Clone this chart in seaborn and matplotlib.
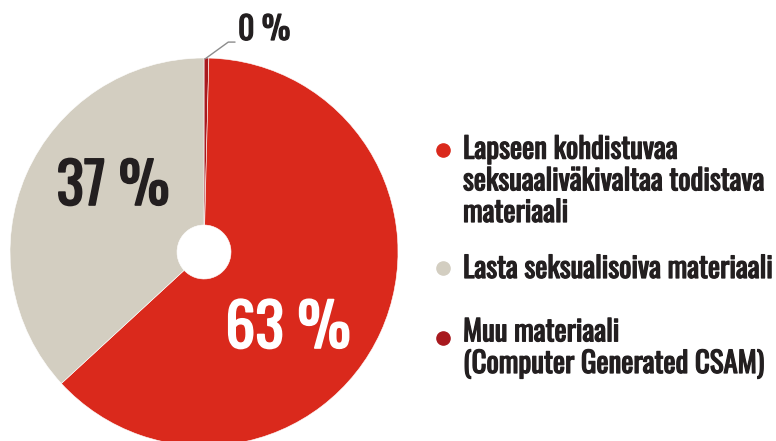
import matplotlib
matplotlib.use("Agg")
import matplotlib.pyplot as plt
import matplotlib.patheffects as pe
import seaborn as sns
from matplotlib.lines import Line2D

# data
categories = ["Muu materiaali\n(Computer Generated CSAM)",
              "Lapseen kohdistuvaa\nseksuaaliväkivaltaa todistava\nmateriaali",
              "Lasta seksualisoiva materiaali"]
shares = [0.4, 63, 37]
pct_labels = ["0 %", "63 %", "37 %"]
colors = ["#A8191E", "#DA291C", "#D3CEC1"]

sns.set_theme(style="white")
plt.rcParams["font.family"] = ["Oswald", "DejaVu Sans"]
text_col = "#231F20"

W, H = 776, 441
fig = plt.figure(figsize=(W / 100, H / 100), dpi=100)


def fx(px):
    return px / W


def fy(py):
    return 1 - py / H


def bold(col, w=0.9):
    return [pe.withStroke(linewidth=w, foreground=col)]


# pie axes: centre at (204, 252) px, radius 194 px
cx, cy, r = 204, 252, 194
ax = fig.add_axes([(cx - r) / W, (H - cy - r) / H, 2 * r / W, 2 * r / H])
wedges, _ = ax.pie(shares, colors=colors, startangle=90, counterclock=False,
                   radius=1, wedgeprops=dict(width=1 - 27 / 194, linewidth=0.4,
                                             edgecolor="white"))
ax.set_xlim(-1, 1)
ax.set_ylim(-1, 1)
ax.set_aspect("equal")
ax.axis("off")

# percentage labels
fig.text(fx(288), fy(348), pct_labels[1], color="white", fontsize=43,
         ha="center", va="baseline", path_effects=bold("white", 1.2))
fig.text(fx(113), fy(205), pct_labels[2], color=text_col, fontsize=41,
         ha="center", va="baseline", path_effects=bold(text_col, 1.2))
# small slice label with leader line
ax.plot([0.005, 0.125, 0.16], [0.995, 1.082, 1.082], color="#8C8C8C", lw=1,
        clip_on=False)
fig.text(fx(238), fy(40), pct_labels[0], color=text_col, fontsize=23,
         ha="left", va="baseline", path_effects=bold(text_col))

# legend (marker y, baseline of last text line)
legend_rows = [(1, 150, 222), (2, 268, 278), (0, 338, 373)]
for idx, y, base in legend_rows:
    fig.add_artist(Line2D([fx(443)], [fy(y)], marker="o", markersize=9.5,
                          color=colors[idx], transform=fig.transFigure))
    fig.text(fx(463), fy(base), categories[idx], color=text_col,
             fontsize=20.8, ha="left", va="baseline", linespacing=1.16,
             path_effects=bold(text_col))

fig.savefig("out.png", dpi=100)
